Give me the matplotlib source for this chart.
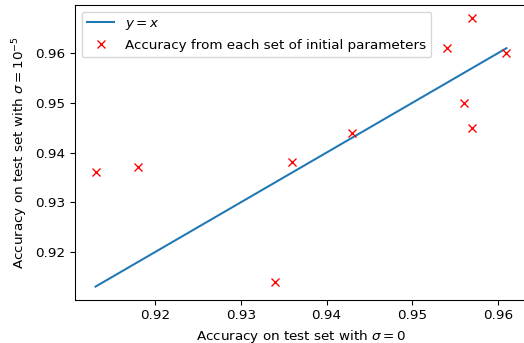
import matplotlib
matplotlib.use("Agg")
import matplotlib.pyplot as plt
import numpy as np

# Test-set accuracy for each set of initial parameters
acc_sigma0 = [0.913, 0.918, 0.934, 0.936, 0.943, 0.954, 0.956, 0.957, 0.957, 0.961]
acc_sigma1e5 = [0.936, 0.937, 0.914, 0.938, 0.944, 0.961, 0.950, 0.967, 0.945, 0.960]

x_ticks = [0.92, 0.93, 0.94, 0.95, 0.96]
y_ticks = [0.92, 0.93, 0.94, 0.95, 0.96]

W, H = 524, 343
DPI = 97
fig = plt.figure(figsize=(W / DPI, H / DPI), dpi=DPI)
ax = fig.add_axes([75 / W, 1 - 300 / H, (527 - 75) / W, (300 - 5) / H])

line_x = np.array([min(acc_sigma0), max(acc_sigma0)])
ax.plot(line_x, line_x, color="#1f77b4", label="$y = x$")
ax.plot(acc_sigma0, acc_sigma1e5, "x", color="red", markersize=6.5,
        label="Accuracy from each set of initial parameters")

ax.set_xticks(x_ticks)
ax.set_yticks(y_ticks)
ax.set_xlabel(r"Accuracy on test set with $\sigma = 0$")
ax.set_ylabel(r"Accuracy on test set with $\sigma = 10^{-5}$")
ax.legend(loc="upper left")

fig.savefig("out.png", dpi=DPI)
